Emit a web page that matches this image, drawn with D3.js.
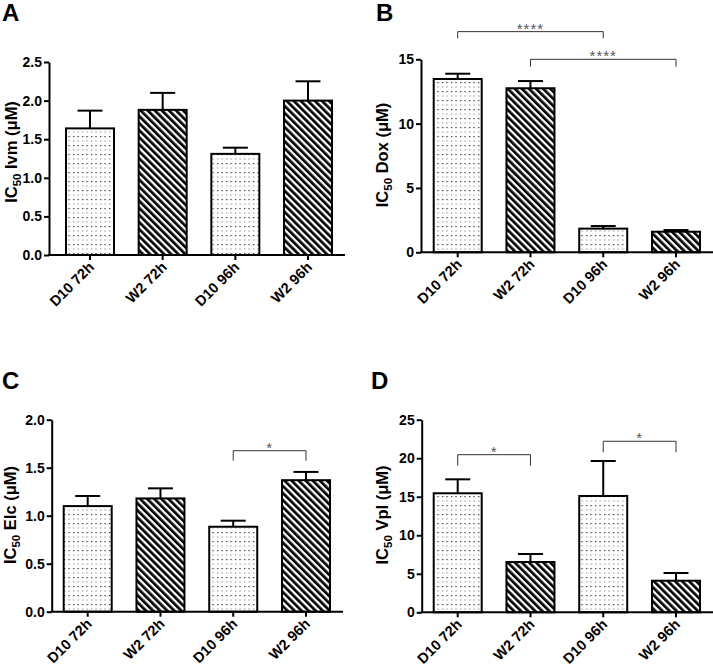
<!DOCTYPE html>
<html><head><meta charset="utf-8">
<script src="https://cdn.jsdelivr.net/npm/d3@7"></script>
<style>
html,body{margin:0;padding:0;background:#fff;}
svg{display:block;font-family:Arial,"Liberation Sans",sans-serif;}
</style></head>
<body>
<svg id="chart" width="713" height="668"></svg>
<script>
// ---- data ----
const categories = ["D10 72h", "W2 72h", "D10 96h", "W2 96h"];
const fills = ["dots", "hatch", "dots", "hatch"];

const ivmMean = [1.64, 1.88, 1.31, 2.00];
const ivmSem  = [0.23, 0.22, 0.08, 0.25];
const ivmTicks = [0, 0.5, 1.0, 1.5, 2.0, 2.5];

const doxMean = [13.47, 12.75, 1.84, 1.60];
const doxSem  = [0.41, 0.56, 0.20, 0.13];
const doxTicks = [0, 5, 10, 15];

const elcMean = [1.10, 1.18, 0.885, 1.37];
const elcSem  = [0.105, 0.105, 0.063, 0.086];
const elcTicks = [0, 0.5, 1.0, 1.5, 2.0];

const vplMean = [15.45, 6.53, 15.1, 4.1];
const vplSem  = [1.81, 1.04, 4.54, 1.0];
const vplTicks = [0, 5, 10, 15, 20, 25];

// significance brackets: [from, to, bar level, leg level, label]
const doxSig = [[0, 2, 17.15, 16.63, "****"], [1, 3, 15.0, 14.43, "****"]];
const elcSig = [[2, 3, 1.677, 1.573, "*"]];
const vplSig = [[0, 1, 20.46, 19.03, "*"], [2, 3, 22.2, 20.77, "*"]];

// ---- layout ----
const panels = [
  {letter:"A", drug:"Ivm", mean:ivmMean, sem:ivmSem, ticks:ivmTicks, fmt:d3.format(".1f"), max:2.5, sig:[],
   left:49, right:345, top:62, bottom:255, c0:90, c3:308, lx:16.5, ly:152, px:2, py:21},
  {letter:"B", drug:"Dox", mean:doxMean, sem:doxSem, ticks:doxTicks, fmt:d3.format("d"), max:15, sig:doxSig,
   left:421, right:713, top:59.3, bottom:252.3, c0:457.7, c3:676, lx:388, ly:155, px:376, py:21},
  {letter:"C", drug:"Elc", mean:elcMean, sem:elcSem, ticks:elcTicks, fmt:d3.format(".1f"), max:2.0, sig:elcSig,
   left:51.7, right:343, top:419.7, bottom:611.7, c0:87.7, c3:306, lx:15.7, ly:515, px:2, py:389},
  {letter:"D", drug:"Vpl", mean:vplMean, sem:vplSem, ticks:vplTicks, fmt:d3.format("d"), max:25, sig:vplSig,
   left:421.7, right:713, top:419.7, bottom:612.3, c0:457.7, c3:676, lx:387.7, ly:515, px:371, py:389}
];

const svg = d3.select("#chart");
const defs = svg.append("defs");
// dotted fill
const pd = defs.append("pattern").attr("id","dots").attr("patternUnits","userSpaceOnUse")
  .attr("width",4.5).attr("height",9);
pd.append("rect").attr("width",4.5).attr("height",9).attr("fill","#fff");
pd.append("rect").attr("x",1).attr("y",1).attr("width",1.2).attr("height",1.2).attr("fill","#222");
pd.append("rect").attr("x",1).attr("y",5.2).attr("width",1.3).attr("height",1.6).attr("fill","#b4b4b4");
// hatched fill
const ph = defs.append("pattern").attr("id","hatch").attr("patternUnits","userSpaceOnUse")
  .attr("width",5).attr("height",5).attr("patternTransform","rotate(-45)");
ph.append("rect").attr("width",5).attr("height",5).attr("fill","#fff");
ph.append("rect").attr("width",2.7).attr("height",5).attr("fill","#000");

const barW = 48, capW = 25;

panels.forEach(p => {
  const g = svg.append("g");
  const x = d3.scalePoint().domain(categories).range([p.c0, p.c3]);
  const y = d3.scaleLinear().domain([0, p.max]).range([p.bottom, p.top]);

  // bars
  categories.forEach((c, i) => {
    const cx = x(c);
    const top = y(p.mean[i]);
    const eTop = y(p.mean[i] + p.sem[i]);
    g.append("line").attr("x1",cx).attr("x2",cx).attr("y1",top).attr("y2",eTop)
      .attr("stroke","#000").attr("stroke-width",2);
    g.append("line").attr("x1",cx-capW/2).attr("x2",cx+capW/2).attr("y1",eTop).attr("y2",eTop)
      .attr("stroke","#000").attr("stroke-width",2);
    g.append("rect").attr("x",cx-barW/2).attr("y",top).attr("width",barW).attr("height",p.bottom-top)
      .attr("fill","url(#"+fills[i]+")").attr("stroke","#000").attr("stroke-width",2);
  });

  // y axis
  const ya = d3.axisLeft(y).tickValues(p.ticks).tickFormat(p.fmt).tickSize(5).tickPadding(2).tickSizeOuter(0);
  const yg = g.append("g").attr("transform",`translate(${p.left},0)`).call(ya);
  yg.select(".domain").attr("stroke","#000").attr("stroke-width",2);
  yg.selectAll(".tick line").attr("stroke","#000").attr("stroke-width",2);
  yg.selectAll(".tick text").attr("font-size",14).attr("font-weight","bold").attr("fill","#000")
    .attr("font-family",'Arial,"Liberation Sans",sans-serif');

  // x axis
  g.append("line").attr("x1",p.left-1).attr("x2",p.right).attr("y1",p.bottom).attr("y2",p.bottom)
    .attr("stroke","#000").attr("stroke-width",2);
  categories.forEach(c => {
    const cx = x(c);
    g.append("line").attr("x1",cx).attr("x2",cx).attr("y1",p.bottom).attr("y2",p.bottom+5)
      .attr("stroke","#000").attr("stroke-width",2);
    g.append("text").attr("transform",`translate(${cx+5},${p.bottom+13}) rotate(-45)`)
      .attr("text-anchor","end").attr("font-size",14.5).attr("font-weight","bold").text(c);
  });

  // y label
  const t = g.append("text").attr("transform",`translate(${p.lx},${p.ly}) rotate(-90)`)
    .attr("text-anchor","middle").attr("font-size",16.5).attr("font-weight","bold");
  t.append("tspan").text("IC");
  t.append("tspan").attr("font-size",11.5).attr("dy",4).text("50");
  t.append("tspan").attr("dy",-4).text(" " + p.drug + " (\u03bcM)");

  // panel letter
  g.append("text").attr("x",p.px).attr("y",p.py).attr("font-size",24).attr("font-weight","bold").text(p.letter);

  // significance
  p.sig.forEach(s => {
    const xa = x(categories[s[0]]), xb = x(categories[s[1]]);
    const yb = y(s[2]), yl = y(s[3]);
    g.append("path").attr("d",`M${xa},${yl}V${yb}H${xb}V${yl}`)
      .attr("fill","none").attr("stroke","#333").attr("stroke-width",1);
    g.append("text").attr("x",(xa+xb)/2).attr("y",yb+2).attr("text-anchor","middle")
      .attr("font-size",15).attr("letter-spacing",1).attr("fill","#555").text(s[4]);
  });
});
</script>
</body></html>
